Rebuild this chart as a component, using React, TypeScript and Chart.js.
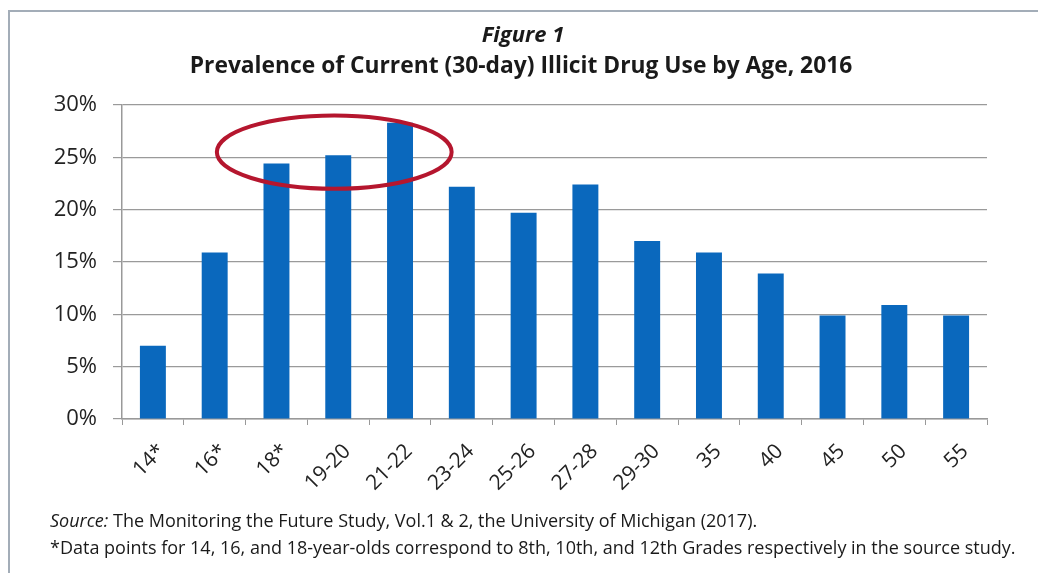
import React, { useEffect, useRef } from "react";
import { Chart, registerables } from "chart.js";

Chart.register(...registerables);

const categories = ["14*", "16*", "18*", "19-20", "21-22", "23-24", "25-26", "27-28", "29-30", "35", "40", "45", "50", "55"];
const prevalence = [7.0, 15.9, 24.4, 25.2, 28.3, 22.2, 19.7, 22.4, 17.0, 15.9, 13.9, 9.9, 10.9, 9.9];
const yTickValues = [0, 5, 10, 15, 20, 25, 30];

const titleLine1 = "Figure 1";
const titleLine2 = "Prevalence of Current (30-day) Illicit Drug Use by Age, 2016";
const sourceLabel = "Source:";
const sourceText = " The Monitoring the Future Study, Vol.1 & 2, the University of Michigan (2017).";
const noteText = "*Data points for 14, 16, and 18-year-olds correspond to 8th, 10th, and 12th Grades respectively in the source study.";

const FONT = "'Open Sans', 'Noto Sans', sans-serif";

const decorPlugin = {
  id: "decor",
  beforeDraw(chart: any) {
    const ctx = chart.ctx as CanvasRenderingContext2D;
    ctx.save();
    ctx.fillStyle = "#ffffff";
    ctx.fillRect(0, 0, chart.width, chart.height);
    // frame
    ctx.strokeStyle = "#a3adb8";
    ctx.lineWidth = 2;
    ctx.beginPath();
    ctx.moveTo(9, chart.height);
    ctx.lineTo(9, 11);
    ctx.lineTo(chart.width, 11);
    ctx.stroke();
    // titles
    ctx.fillStyle = "#1a1a1a";
    ctx.textAlign = "center";
    ctx.textBaseline = "middle";
    ctx.font = `italic bold 22px ${FONT}`;
    ctx.fillText(titleLine1, 523, 36);
    ctx.font = `bold 22.8px ${FONT}`;
    ctx.fillText(titleLine2, 521, 67);
    // footnotes
    ctx.textAlign = "left";
    ctx.fillStyle = "#1a1a1a";
    ctx.font = `italic 18px ${FONT}`;
    ctx.fillText(sourceLabel, 50, 522);
    const w = ctx.measureText(sourceLabel).width;
    ctx.font = `18px ${FONT}`;
    ctx.fillText(sourceText, 50 + w, 522);
    ctx.fillText(noteText, 50, 549);
    ctx.restore();
  },
  afterDatasetsDraw(chart: any) {
    const ctx = chart.ctx as CanvasRenderingContext2D;
    const xs = chart.scales.x;
    const ys = chart.scales.y;
    const cx = xs.getPixelForValue(3) - 4;
    const cy = ys.getPixelForValue(25.5);
    const step = xs.getPixelForValue(1) - xs.getPixelForValue(0);
    const rx = step * 1.9;
    const ry = Math.abs(ys.getPixelForValue(0) - ys.getPixelForValue(3.5));
    ctx.save();
    ctx.strokeStyle = "#b5162e";
    ctx.lineWidth = 4;
    ctx.beginPath();
    ctx.ellipse(cx, cy, rx, ry, 0, 0, Math.PI * 2);
    ctx.stroke();
    ctx.restore();
  },
};

export default function App() {
  const canvasRef = useRef<HTMLCanvasElement | null>(null);

  useEffect(() => {
    if (!canvasRef.current) return;
    const chart = new Chart(canvasRef.current, {
      type: "bar",
      data: {
        labels: categories,
        datasets: [
          {
            data: prevalence,
            backgroundColor: "#0a68bd",
            borderWidth: 0,
            barPercentage: 0.42,
            categoryPercentage: 1,
          },
        ],
      },
      options: {
        animation: false,
        responsive: false,
        maintainAspectRatio: false,
        layout: { padding: { left: 0, right: 51, top: 105, bottom: 74 } },
        plugins: {
          legend: { display: false },
          tooltip: { enabled: false },
          title: { display: false },
        },
        scales: {
          x: {
            afterFit: (s: any) => {
              s.height = 80;
            },
            grid: {
              display: true,
              drawOnChartArea: false,
              drawTicks: true,
              tickLength: 6,
              color: "#999999",
              offset: true,
            },
            border: { display: true, color: "#999999", width: 1.5 },
            ticks: {
              autoSkip: false,
              maxRotation: 45,
              minRotation: 45,
              padding: 14,
              labelOffset: 9,
              color: "#222222",
              font: { family: FONT, size: 21 },
            },
          },
          y: {
            min: 0,
            max: 30,
            afterFit: (s: any) => {
              s.width = 122;
            },
            afterBuildTicks: (s: any) => {
              s.ticks = yTickValues.map((v) => ({ value: v }));
            },
            grid: {
              color: "#9a9a9a",
              lineWidth: 1.2,
              tickLength: 9,
            },
            border: { display: true, color: "#999999", width: 1.5 },
            ticks: {
              padding: 16,
              color: "#222222",
              font: { family: FONT, size: 22 },
              callback: (v: any) => `${v}%`,
            },
          },
        },
      },
      plugins: [decorPlugin],
    });
    return () => chart.destroy();
  }, []);

  return (
    <div style={{ position: "fixed", left: 0, top: 0, width: 1038, height: 573, background: "#fff" }}>
      <canvas ref={canvasRef} width={1038} height={573} style={{ display: "block", width: 1038, height: 573 }} />
    </div>
  );
}
